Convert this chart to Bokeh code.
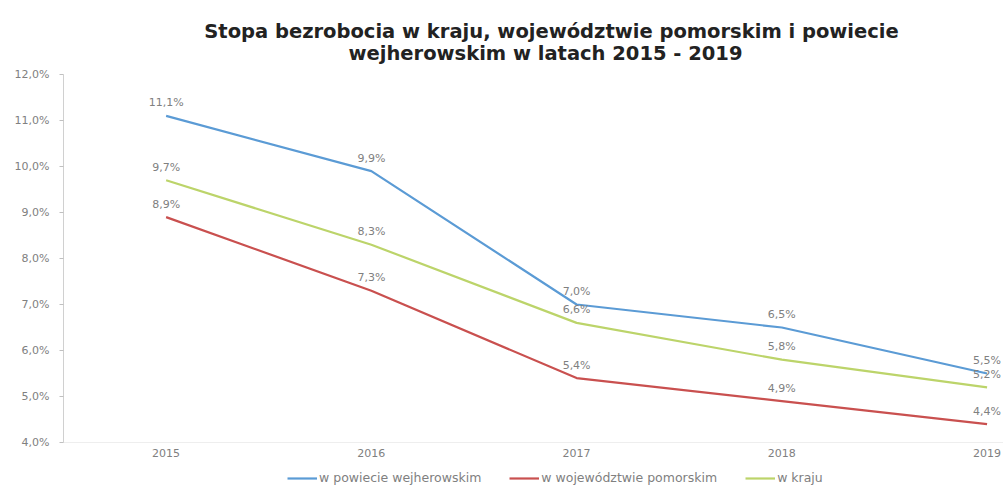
from bokeh.plotting import figure
from bokeh.models import ColumnDataSource, Range1d, FixedTicker, Legend, LegendItem, Label
from bokeh.layouts import column
from bokeh.embed import file_html
from bokeh.resources import INLINE

# ---- data ----
years = [2015, 2016, 2017, 2018, 2019]
powiat = [11.1, 9.9, 7.0, 6.5, 5.5]
wojewodztwo = [8.9, 7.3, 5.4, 4.9, 4.4]
kraj = [9.7, 8.3, 6.6, 5.8, 5.2]
series_names = ["w powiecie wejherowskim", "w województwie pomorskim", "w kraju"]
y_ticks = [4, 5, 6, 7, 8, 9, 10, 11, 12]
y_tick_labels = ["4,0%", "5,0%", "6,0%", "7,0%", "8,0%", "9,0%", "10,0%", "11,0%", "12,0%"]
title_lines = ["Stopa bezrobocia w kraju, województwie pomorskim i powiecie",
               "wejherowskim w latach 2015 - 2019"]

colors = ["#5b9bd5", "#c9504f", "#bcd46a"]
LABEL_FONT = "DejaVu Sans"
TITLE_FONT = "DejaVu Sans"
GRAY = "#808080"
W = 1003
LEFT = 63


def bare(fig):
    fig.outline_line_color = None
    fig.xgrid.visible = False
    fig.ygrid.visible = False
    fig.background_fill_color = "white"
    fig.border_fill_color = "white"


# ---- header with the two title lines ----
hdr = figure(width=W, height=66, output_backend="svg", toolbar_location=None,
             x_axis_location=None, y_axis_location=None,
             x_range=Range1d(LEFT, W), y_range=Range1d(66, 0),
             min_border_left=LEFT, min_border_right=0, min_border_top=0,
             min_border_bottom=0, title=None)
bare(hdr)
for txt, cx, cy in zip(title_lines, [551, 545], [31, 53]):
    hdr.add_layout(Label(x=cx, y=cy, text=txt, text_align="center",
                         text_baseline="middle", text_font=TITLE_FONT,
                         text_font_style="bold", text_font_size="19.5px",
                         text_color="#222222"))

# ---- main chart ----
p = figure(width=W, height=402, output_backend="svg", toolbar_location=None,
           x_range=Range1d(2014.5, 2019.08), y_range=Range1d(4, 12),
           min_border_left=LEFT, min_border_right=0, min_border_top=8,
           min_border_bottom=26, title=None)
bare(p)

p.yaxis.ticker = FixedTicker(ticks=y_ticks)
p.yaxis.major_label_overrides = {t: l for t, l in zip(y_ticks, y_tick_labels)}
p.yaxis.major_label_text_font = LABEL_FONT
p.yaxis.major_label_text_font_size = "11px"
p.yaxis.major_label_text_color = GRAY
p.yaxis.axis_line_color = "#d0d0d0"
p.yaxis.major_tick_line_color = "#c0c0c0"
p.yaxis.major_tick_out = 4
p.yaxis.major_tick_in = 0
p.yaxis.minor_tick_line_color = None
p.yaxis.major_label_standoff = 10

p.xaxis.ticker = FixedTicker(ticks=years)
p.xaxis.major_label_text_font = LABEL_FONT
p.xaxis.major_label_text_font_size = "11px"
p.xaxis.major_label_text_color = GRAY
p.xaxis.axis_line_color = "#eeeeee"
p.xaxis.major_tick_line_color = None
p.xaxis.minor_tick_line_color = None
p.xaxis.major_tick_out = 0
p.xaxis.major_label_standoff = 6

# ---- legend strip below the chart ----
pl = figure(width=W, height=18, output_backend="svg", toolbar_location=None,
            x_axis_location=None, y_axis_location=None,
            x_range=Range1d(0, 1), y_range=Range1d(0, 1),
            min_border_left=LEFT, min_border_right=0, min_border_top=0,
            min_border_bottom=0, title=None)
bare(pl)

items = []
for name, vals, col in zip(series_names, [powiat, wojewodztwo, kraj], colors):
    src = ColumnDataSource(dict(x=years, y=vals,
                                lbl=[f"{v:.1f}%".replace(".", ",") for v in vals]))
    p.line("x", "y", source=src, line_color=col, line_width=2.2)
    p.text("x", "y", text="lbl", source=src, text_align="center",
           text_baseline="middle", y_offset=-13, text_font_size="11px",
           text_color=GRAY, text_font={"value": LABEL_FONT})
    # legend sample (single point lies outside the strip's range, so only the key shows)
    sample = pl.line(x=[years[0]], y=[vals[0]], line_color=col, line_width=2.2)
    items.append(LegendItem(label=name, renderers=[sample]))

legend = Legend(items=items, orientation="horizontal", location=(224, 1),
                label_text_font=LABEL_FONT, label_text_font_size="12.5px",
                label_text_color=GRAY, glyph_width=30, glyph_height=12,
                label_height=12, label_standoff=2, spacing=28, padding=0,
                margin=0, border_line_color=None, background_fill_alpha=0)
pl.add_layout(legend, "center")

layout = column(hdr, p, pl, spacing=0)
open("out.html", "w").write(file_html(layout, INLINE))
